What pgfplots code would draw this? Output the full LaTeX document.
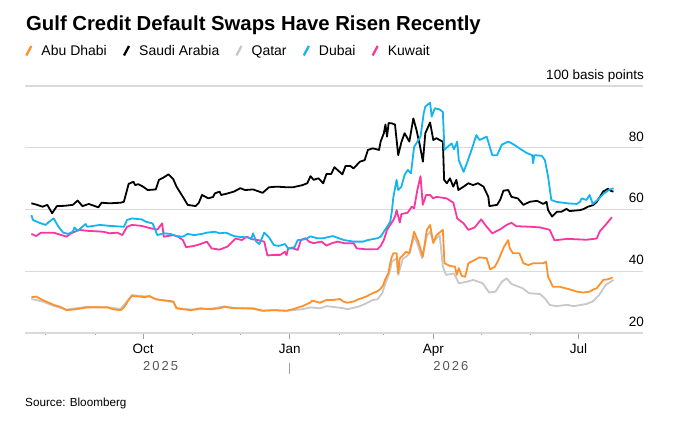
\documentclass[border=0pt]{standalone}
\usepackage{pgfplots}
\pgfplotsset{compat=1.18}
\usepackage{fontspec}
\setmainfont{Liberation Sans}
\definecolor{cAbu}{RGB}{255,145,45}
\definecolor{cSaudi}{RGB}{0,0,0}
\definecolor{cQatar}{RGB}{200,200,200}
\definecolor{cDubai}{RGB}{20,180,240}
\definecolor{cKuwait}{RGB}{250,55,160}
\definecolor{gridgray}{RGB}{218,218,218}
\definecolor{tickgray}{RGB}{160,160,160}
\definecolor{yeargray}{RGB}{85,85,85}
\begin{document}
\begin{tikzpicture}
\path[use as bounding box] (-25pt,-95pt) rectangle (658pt,333pt);
\node[anchor=base west, inner sep=0pt] at (1pt,302.5pt) {\fontsize{20.3}{24}\selectfont\bfseries Gulf Credit Default Swaps Have Risen Recently};
\node[anchor=base west, inner sep=0pt] at (0pt,-74pt) {\fontsize{11.7}{14}\selectfont Source: Bloomberg};
\begin{axis}[
  at={(0pt,0pt)}, anchor=south west,
  scale only axis, width=618pt, height=247pt,
  xmin=-74, xmax=313.5, ymin=20, ymax=100,
  clip=false,
  axis x line*=bottom, axis y line*=right,
  x axis line style={draw=gridgray, line width=1.5pt},
  y axis line style={draw=none},
  ytick={20,40,60,80,100},
  yticklabels={20,40,60,80,100 basis points},
  ymajorgrids, grid style={draw=gridgray, line width=1.3pt},
  ytick style={draw=none},
  yticklabel style={anchor=base east, inner sep=0pt, font=\fontsize{13.5}{15}\selectfont, text=black, xshift=-5pt, yshift=6.5pt},
  xtick={0,92,182,273}, xticklabels={Oct,Jan,Apr,Jul},
  minor xtick={-61,-30,31,61,123,151,212,243},
  tick align=outside, major tick length=6pt, minor tick length=2.5pt,
  xtick style={draw=tickgray, line width=1pt},
  xticklabel style={font=\fontsize{13.5}{15}\selectfont, anchor=base, inner sep=0pt, yshift=-15pt},
  legend style={at={(rel axis cs:0,1)}, anchor=south west, xshift=-3pt, yshift=25pt, draw=none, fill=none,
    font=\fontsize{14}{16}\selectfont, legend columns=-1,
    /tikz/every odd column/.append style={column sep=7pt},
    /tikz/every even column/.append style={column sep=14pt}},
  legend image code/.code={\draw[#1, line width=2.3pt] (0pt,-4.5pt) -- (5pt,5pt);},
  every axis plot/.append style={line width=1.8pt, line join=round},
]
\addlegendimage{cAbu}
\addlegendentry{Abu Dhabi}
\addlegendimage{cSaudi}
\addlegendentry{Saudi Arabia}
\addlegendimage{cQatar}
\addlegendentry{Qatar}
\addlegendimage{cDubai}
\addlegendentry{Dubai}
\addlegendimage{cKuwait}
\addlegendentry{Kuwait}

% Qatar
\addplot[cQatar, forget plot] table {
-70 31.0
-63 30.2
-56 28.8
-48 27.6
-35 28.5
-22 28.3
-14 27.8
-9 30.9
-7 32.3
-2 32.0
4 31.8
8 31.0
15 30.3
19 30.0
21 28.1
30 27.6
42 27.8
51 28.6
57 28.1
69 27.8
75 27.2
82 27.4
90 27.2
94 27.4
100 27.7
105 28.3
111 28.0
115 28.7
120 28.4
126 28.0
128 27.7
135 28.5
140 29.6
144 30.7
147 30.9
150 32.9
152 36.1
154 38.8
155 40.4
156 43.1
159 44.2
160 38.8
163 44.2
165 44.7
167 45.8
170 51.2
172 49.0
175 44.2
178 51.5
180 52.8
182 49.6
186 51.7
188 41.5
190 38.8
195 39.3
198 36.1
203 36.6
207 37.2
213 36.1
217 33.1
221 33.4
225 36.6
228 37.7
231 35.9
238 34.5
242 32.9
249 32.6
252 31.2
255 29.1
259 28.7
266 29.1
270 28.7
278 29.4
282 30.2
286 32.3
290 35.5
295 37.2
};
% Kuwait
\addplot[cKuwait, forget plot] table {
-70 52.1
-67 51.4
-64 52.5
-56 52.5
-51 51.7
-48 51.2
-45 52.3
-40 53.4
-35 53.1
-25 52.8
-21 52.3
-16 52.5
-13 51.7
-10 54.4
-7 55.0
-1 54.7
5 53.9
9 53.5
12 55.5
13 51.2
19 51.7
22 51.2
25 50.1
27 47.8
32 48.2
36 48.8
40 49.6
43 47.4
48 47.0
53 48.0
58 50.6
62 50.1
65 51.2
68 50.4
72 50.1
76 49.6
78 45.1
82 45.3
86 45.3
89 46.3
90 45.2
91 47.4
94 47.4
97 46.9
99 50.1
102 50.7
104 49.6
107 49.1
112 49.6
115 48.3
118 49.0
122 49.6
126 49.1
132 49.1
134 47.4
140 47.1
147 47.1
149 48.2
151 50.1
153 53.4
155 55.0
157 56.6
158 57.7
159 59.8
161 55.8
162 58.5
166 59.0
168.5 60.9
170 60.4
172 66.3
174 70.8
175.4 61.5
177.5 64.7
180 64.7
182 63.6
184 64.1
190.4 63.6
194.6 62.2
197 57.1
201 55.5
204 53.4
208 54.2
212 56.8
215.5 54.4
219 52.3
224 53.6
228 55.0
231 55.7
234 54.6
243 54.4
249 54.2
255 53.4
258 50.0
266 50.5
278 50.2
284.5 50.6
286.5 53.0
290 55.0
294 57.5
};
% Saudi Arabia
\addplot[cSaudi, forget plot] table {
-70 62.0
-67 61.6
-63 60.9
-60 61.5
-57 58.8
-54 61.1
-49 61.2
-44 61.5
-41 62.9
-38 61.1
-34 61.8
-28 60.7
-26 62.2
-21 62.0
-14 62.2
-12 62.5
-9 68.3
-6 69.0
-5 67.9
-3 68.2
0 67.4
3 66.3
8 66.5
10 69.6
13 70.4
16 71.4
19 69.8
21 67.4
25 64.1
28 61.5
33 61.1
35 62.2
37 64.7
41 63.6
44 64.1
45 65.2
48 65.8
49 64.7
53 65.2
57 65.8
61 66.9
64 66.3
69 66.5
75 65.4
79 67.2
84 67.4
90 67.2
94 67.2
100 67.9
103 68.5
105 70.8
107 69.6
110 70.1
113 68.5
115 71.5
118 71.5
120 73.7
125 71.4
127 74.1
130 74.1
132 73.3
136 75.5
139 76.0
141 79.3
144 79.8
148 79.3
149 82.0
151 84.7
152 87.5
153 83.6
154 88.0
156 87.9
158 87.5
160 77.6
162 81.8
164 84.7
167 82.0
169.5 89.5
171.5 85.7
173.5 81.0
175.5 75.5
177 84.7
180 88.2
182 82.5
184 83.1
186 82.5
188 82.0
188.8 69.6
190.5 68.5
192.5 70.1
194.5 67.4
196.5 69.6
197.7 66.3
201 67.4
204 68.5
207 67.9
210 68.5
213.5 67.4
216.5 64.1
217.2 61.1
222 61.5
224 63.2
226 66.1
229 66.3
231 64.1
235 63.6
238.5 61.5
242.5 62.5
247 62.8
251 61.8
253 62.5
254 59.8
256.5 57.7
259.5 59.3
262.5 59.3
265.5 60.2
267.5 59.5
274 59.8
276 60.1
279 60.9
282.5 61.5
284.5 62.5
286.5 64.1
288.5 65.8
291.5 66.7
293.5 66.0
295 65.8
};
% Dubai
\addplot[cDubai, forget plot] table {
-70 58.2
-69 56.6
-65 55.7
-61 55.0
-59 56.0
-56 57.1
-53 54.4
-50 52.5
-47 52.1
-44 52.8
-43 54.2
-41 53.1
-36 55.3
-35 54.4
-27 55.0
-21 54.7
-12 54.4
-10 56.6
-7 57.1
-1 56.8
2 56.0
6 55.5
9 51.7
13 52.3
17 52.1
21 51.4
25 51.2
28 52.1
32 51.7
37 52.1
40 52.5
45 52.8
48 52.3
52 52.5
57 51.4
61 51.1
65 51.0
68 50.7
69 52.3
71 49.6
73 48.8
76 52.5
79 51.0
82 48.5
85 48.2
89 48.8
91 47.4
95 47.8
97 50.1
102 50.4
105 51.3
109 50.7
113 50.7
119 51.4
126 50.1
132 49.6
138 49.6
141 50.1
147 50.7
149 51.2
151 52.8
153 54.4
155 56.0
156 59.3
157 64.1
159 69.6
160 66.3
162 67.4
164 71.2
166 72.8
168 71.7
170 80.3
174 83.6
176 91.2
177 93.3
180 94.6
181 90.1
183 92.8
186 92.4
188 91.6
189 79.3
191 80.3
193.5 81.4
195 79.5
197 82.0
198 76.0
201 72.2
203 74.9
206 79.3
209 84.1
211 82.5
215.5 83.6
219 77.6
222 77.6
225 81.0
229 82.0
232 81.2
236 79.8
240.6 78.3
244 77.6
244.6 75.0
245.3 77.6
250 77.4
252 76.0
254 70.6
256 63.1
259 62.5
266 62.0
272 61.8
274 62.5
275 63.6
278 63.1
280 64.7
282 61.8
285 63.1
289 65.2
292 66.3
295 66.9
};
% Abu Dhabi
\addplot[cAbu, forget plot] table {
-70 31.6
-67 31.8
-63 30.7
-56 29.1
-52 28.5
-48 27.4
-42 27.7
-35 28.3
-29 28.3
-22 28.3
-19 27.7
-14 27.4
-12 28.3
-9 30.7
-7 32.0
-2 31.8
1 31.6
4 32.0
8 30.9
11 30.7
15 30.5
19 30.2
21 28.0
25 27.7
30 27.4
36 28.0
42 27.7
48 28.0
51 28.5
57 28.0
69 28.0
75 27.2
82 27.4
90 27.2
94 27.7
100 28.7
105 29.9
106 30.5
111 29.8
115 30.7
119 30.7
123.5 31.0
125.6 30.2
128 29.8
132 30.2
135 30.9
140 31.8
144 32.9
146.5 33.4
148.6 34.1
150.6 35.5
151.7 37.2
153.8 39.3
155 42.6
156 44.7
157 45.8
159 45.8
160 39.3
161 44.2
162 44.7
165 46.3
167 45.8
170 52.8
172.6 49.6
175.4 44.7
178 53.4
180 55.0
182 49.1
184 51.7
188 53.4
189 42.6
192.5 41.7
195.6 41.5
196.7 38.8
198 41.0
199.8 38.5
202 38.2
204 42.6
207 43.4
211 44.5
215.5 44.2
217.6 40.6
220.7 41.5
222.8 43.6
225 46.3
226.3 47.9
229 50.1
230 47.4
232 45.8
236 45.8
238.5 42.6
241.6 42.0
244.7 42.6
251 42.6
252.7 43.1
254 38.2
257 35.0
261 35.0
267.7 34.1
272 33.4
276 33.1
280 33.4
282 34.0
284.5 34.5
288.6 37.2
291.7 37.4
294.5 38.0
};

\node[anchor=base west, inner sep=0pt, text=yeargray] at (axis cs:0,20) [yshift=-38pt] {\fontsize{13}{15}\selectfont\addfontfeature{LetterSpace=15}2025};
\node[anchor=base west, inner sep=0pt, text=yeargray] at (axis cs:182,20) [yshift=-38pt] {\fontsize{13}{15}\selectfont\addfontfeature{LetterSpace=15}2026};
\draw[tickgray, line width=1pt] (axis cs:92,20) ++(0pt,-30pt) -- ++(0pt,-11pt);
\end{axis}
\end{tikzpicture}
\end{document}
